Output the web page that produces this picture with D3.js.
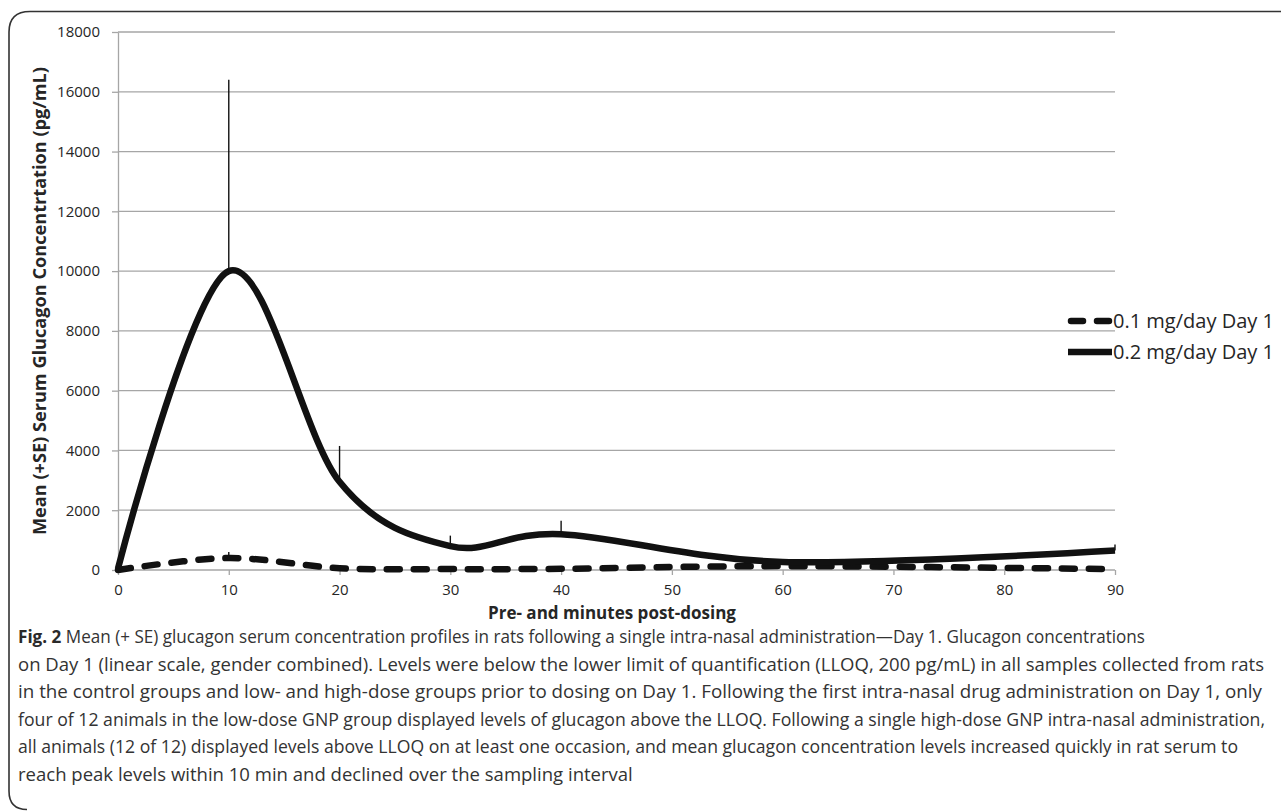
<!DOCTYPE html>
<html>
<head>
<meta charset="utf-8">
<script src="https://cdn.jsdelivr.net/npm/d3@7"></script>
<style>
  body { margin: 0; background: #fff; }
  svg { display: block; }
  .tick text { font-family: "Open Sans", sans-serif; font-size: 15px; fill: #262626; }
</style>
</head>
<body>
<svg id="chart" width="1281" height="812"></svg>
<script>
// data
const times = [0, 10, 20, 30, 40, 60, 90];
const lowDose = [0, 400, 60, 30, 40, 130, 30];           // 0.1 mg/day Day 1
const highDose = [50, 10000, 2950, 800, 1200, 270, 650]; // 0.2 mg/day Day 1
const lowSE = [0, 200, 0, 0, 0, 0, 0];
const highSE = [0, 6400, 1200, 350, 450, 0, 200];

const xTicks = [0, 10, 20, 30, 40, 50, 60, 70, 80, 90];
const yTicks = [0, 2000, 4000, 6000, 8000, 10000, 12000, 14000, 16000, 18000];

const seriesNames = ["0.1 mg/day Day 1", "0.2 mg/day Day 1"];

const captionLines = [
  ["Fig. 2", " Mean (+ SE) glucagon serum concentration profiles in rats following a single intra-nasal administration\u2014Day 1. Glucagon concentrations"],
  ["", "on Day 1 (linear scale, gender combined). Levels were below the lower limit of quantification (LLOQ, 200 pg/mL) in all samples collected from rats"],
  ["", "in the control groups and low- and high-dose groups prior to dosing on Day 1. Following the first intra-nasal drug administration on Day 1, only"],
  ["", "four of 12 animals in the low-dose GNP group displayed levels of glucagon above the LLOQ. Following a single high-dose GNP intra-nasal administration,"],
  ["", "all animals (12 of 12) displayed levels above LLOQ on at least one occasion, and mean glucagon concentration levels increased quickly in rat serum to"],
  ["", "reach peak levels within 10 min and declined over the sampling interval"]
];
// full-width lines are fitted to these widths; the last, short line keeps the same squeeze
const captionWidths = [1127, 1246, 1244, 1247, 1220, null];

const svg = d3.select("#chart");

// frame round the figure
svg.append("path")
  .attr("d", "M1281,11.5 H30 Q9,11.5 9,32 V791 Q9,809.5 27,809.5")
  .attr("fill", "none")
  .attr("stroke", "#333")
  .attr("stroke-width", 1.6);

const x = d3.scaleLinear().domain([0, 90]).range([118, 1115]);
const y = d3.scaleLinear().domain([0, 18000]).range([570, 32]);

// gridlines
svg.append("g")
  .selectAll("line")
  .data(yTicks.slice(1))
  .enter()
  .append("line")
  .attr("x1", x(0))
  .attr("x2", x(90))
  .attr("y1", d => y(d))
  .attr("y2", d => y(d))
  .attr("stroke", "#a6a6a6")
  .attr("stroke-width", 1.3);

// axes
const xAxis = d3.axisBottom(x).tickValues(xTicks).tickSize(5).tickSizeOuter(0).tickPadding(9);
const gx = svg.append("g").attr("transform", "translate(0," + y(0) + ")").call(xAxis);
const yAxis = d3.axisLeft(y).tickValues(yTicks).tickFormat(d3.format("d"))
  .tickSize(6).tickSizeOuter(0).tickPadding(12);
const gy = svg.append("g").attr("transform", "translate(" + x(0) + ",0)").call(yAxis);
svg.selectAll(".domain, .tick line").attr("stroke", "#a6a6a6").attr("stroke-width", 1.3);
gx.select(".domain").remove();
svg.append("line")
  .attr("x1", x(0)).attr("x2", x(90))
  .attr("y1", y(0)).attr("y2", y(0))
  .attr("stroke", "#a6a6a6").attr("stroke-width", 1.3);

// axis titles
svg.append("text")
  .attr("transform", "translate(46," + ((y(0) + y(18000)) / 2) + ") rotate(-90)")
  .attr("text-anchor", "middle")
  .attr("textLength", 468)
  .attr("lengthAdjust", "spacingAndGlyphs")
  .style("font-family", "'Open Sans', sans-serif")
  .style("font-weight", "bold")
  .style("font-size", "18px")
  .attr("fill", "#262626")
  .text("Mean (+SE) Serum Glucagon Concentrtation (pg/mL)");

svg.append("text")
  .attr("x", 612)
  .attr("y", 619)
  .attr("text-anchor", "middle")
  .attr("textLength", 248)
  .attr("lengthAdjust", "spacingAndGlyphs")
  .style("font-family", "'Open Sans', sans-serif")
  .style("font-weight", "bold")
  .style("font-size", "17px")
  .attr("fill", "#262626")
  .text("Pre- and minutes post-dosing");

// lines
const line = (vals) => d3.line()
  .x((d, i) => x(times[i]))
  .y(d => y(d))
  .curve(d3.curveCardinal.tension(0))(vals);

// error bars (drawn up from the mean)
function errorBars(vals, se) {
  svg.append("g")
    .selectAll("line")
    .data(times.map((t, i) => ({t: t, v: vals[i], e: se[i]})).filter(d => d.e > 0))
    .enter()
    .append("line")
    .attr("x1", d => x(d.t))
    .attr("x2", d => x(d.t))
    .attr("y1", d => y(d.v))
    .attr("y2", d => y(d.v + d.e))
    .attr("stroke", "#111")
    .attr("stroke-width", 1.4);
}
errorBars(lowDose, lowSE);
errorBars(highDose, highSE);

svg.append("path")
  .attr("d", line(lowDose))
  .attr("fill", "none")
  .attr("stroke", "#111")
  .attr("stroke-width", 6.5)
  .attr("stroke-linecap", "round")
  .attr("stroke-dasharray", "13,14");

svg.append("path")
  .attr("d", line(highDose))
  .attr("fill", "none")
  .attr("stroke", "#111")
  .attr("stroke-width", 6.5);

// legend
const legend = svg.append("g").attr("transform", "translate(1068,321)");
legend.append("line")
  .attr("x1", 3).attr("x2", 44).attr("y1", 0).attr("y2", 0)
  .attr("stroke", "#111").attr("stroke-width", 6.5)
  .attr("stroke-linecap", "round")
  .attr("stroke-dasharray", "12,14");
legend.append("line")
  .attr("x1", 0).attr("x2", 44).attr("y1", 31).attr("y2", 31)
  .attr("stroke", "#111").attr("stroke-width", 6.5);
legend.selectAll("text")
  .data(seriesNames)
  .enter()
  .append("text")
  .attr("x", 45)
  .attr("y", (d, i) => i * 31 + 7)
  .attr("textLength", 161)
  .attr("lengthAdjust", "spacingAndGlyphs")
  .style("font-family", "'Open Sans', sans-serif")
  .style("font-size", "19.5px")
  .attr("fill", "#262626")
  .text(d => d);

// caption
const cap = svg.append("g");
let squeeze = 1;
captionLines.forEach((ln, i) => {
  const t = cap.append("text")
    .attr("x", 18)
    .attr("y", 643 + i * 27.5)
    .style("font-family", "'Open Sans', sans-serif")
    .style("font-size", "17.5px")
    .attr("fill", "#333");
  if (ln[0]) t.append("tspan").style("font-weight", "bold").attr("fill", "#2a2a2a").text(ln[0]);
  t.append("tspan").text(ln[1]);
  const natural = t.node().getComputedTextLength();
  if (captionWidths[i]) {
    if (i === 1) squeeze = captionWidths[i] / natural;
    t.attr("textLength", captionWidths[i]);
  } else {
    t.attr("textLength", natural * squeeze);
  }
  t.attr("lengthAdjust", "spacingAndGlyphs");
});
</script>
</body>
</html>
